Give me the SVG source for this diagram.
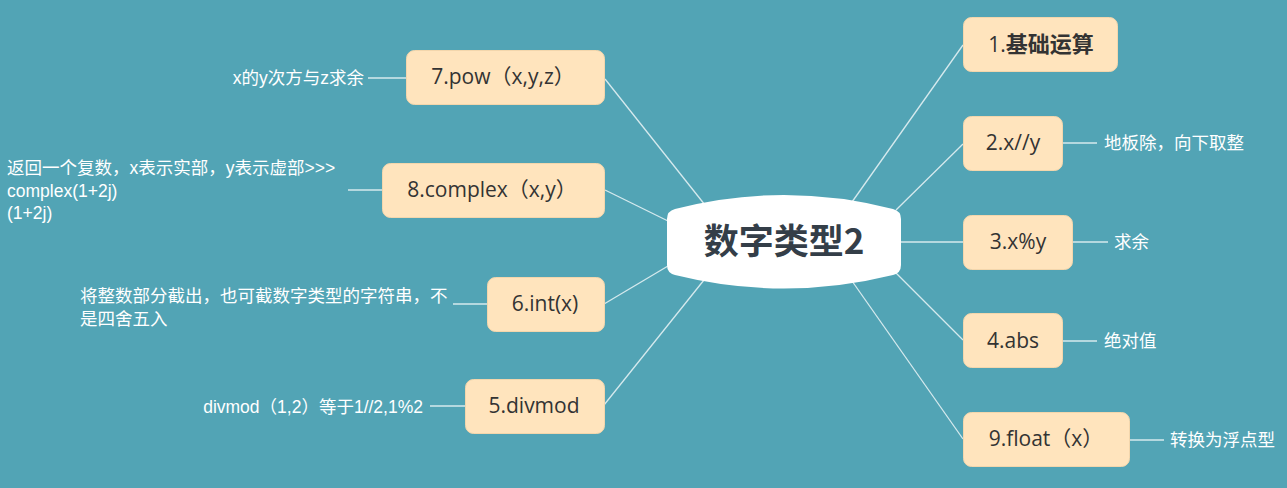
<svg xmlns="http://www.w3.org/2000/svg" width="1287" height="488" viewBox="0 0 1287 488">
<style>
.bg{fill:#52a4b5}
.box{fill:#ffe4bd;stroke:#f3d6ac;stroke-width:1}
.ntx{font-family:"Open Sans","Noto Sans CJK SC",sans-serif;font-size:21px;fill:#333333;text-anchor:middle}
.lbl{font-family:"Liberation Sans","Noto Sans CJK SC",sans-serif;font-size:17.5px;fill:#ffffff}
.ln{stroke:#d6eaee;stroke-width:1.3;fill:none}
.ctr{fill:#ffffff}
.ctx{font-family:"Noto Sans CJK SC","Noto Sans",sans-serif;font-size:35px;font-weight:700;fill:#343e48;text-anchor:middle}
</style>
<rect class="bg" x="0" y="0" width="1287" height="488"/>
<g id="connectors">
<line class="ln" x1="605" y1="79" x2="705" y2="205"/>
<line class="ln" x1="605" y1="190" x2="668" y2="221"/>
<line class="ln" x1="604" y1="304" x2="668" y2="266"/>
<line class="ln" x1="604" y1="405" x2="704" y2="280"/>
<line class="ln" x1="852" y1="202" x2="963" y2="45"/>
<line class="ln" x1="896" y1="210" x2="963" y2="144"/>
<line class="ln" x1="901" y1="242" x2="963" y2="242"/>
<line class="ln" x1="896" y1="273" x2="963" y2="340"/>
<line class="ln" x1="852" y1="281" x2="963" y2="439"/>
<line class="ln" x1="368" y1="78" x2="406" y2="78"/>
<line class="ln" x1="348" y1="190" x2="382" y2="190"/>
<line class="ln" x1="453" y1="304" x2="488" y2="304"/>
<line class="ln" x1="430" y1="406" x2="465" y2="406"/>
<line class="ln" x1="1063" y1="143" x2="1097" y2="143"/>
<line class="ln" x1="1073" y1="242" x2="1108" y2="242"/>
<line class="ln" x1="1063" y1="341" x2="1097" y2="341"/>
<line class="ln" x1="1129" y1="440" x2="1164" y2="440"/>
</g>
<g id="center">
<path class="ctr" d="M667,219 Q667,211 675,209 Q784,181 893,209 Q901,211 901,219 L901,265 Q901,273 893,275 Q784,302 675,275 Q667,273 667,265 Z"/>
<text class="ctx" x="784" y="254">数字类型2</text>
</g>
<g id="node1">
<rect class="box" x="963.5" y="17.5" width="154" height="54" rx="8"/>
<text class="ntx" x="1041" y="52">1.<tspan font-size="22px" font-weight="700">基础运算</tspan></text>
</g>
<g id="node2">
<rect class="box" x="963.5" y="116.5" width="99" height="54" rx="8"/>
<text class="ntx" x="1013" y="150">2.x//y</text>
<text class="lbl" x="1104" y="149">地板除，向下取整</text>
</g>
<g id="node3">
<rect class="box" x="963.5" y="215.5" width="109" height="54" rx="8"/>
<text class="ntx" x="1018" y="249">3.x%y</text>
<text class="lbl" x="1114" y="248">求余</text>
</g>
<g id="node4">
<rect class="box" x="963.5" y="313.5" width="99" height="54" rx="8"/>
<text class="ntx" x="1013" y="348">4.abs</text>
<text class="lbl" x="1104" y="347">绝对值</text>
</g>
<g id="node9">
<rect class="box" x="963.5" y="412.5" width="166" height="54" rx="8"/>
<text class="ntx" x="1046" y="446">9.float（x）</text>
<text class="lbl" x="1170" y="446">转换为浮点型</text>
</g>
<g id="node7">
<rect class="box" x="406.5" y="50.5" width="198" height="54" rx="8"/>
<text class="ntx" x="503" y="84">7.pow（x,y,z）</text>
<text class="lbl" x="364" y="84" text-anchor="end">x的y次方与z求余</text>
</g>
<g id="node8">
<rect class="box" x="382.5" y="163.5" width="222" height="54" rx="8"/>
<text class="ntx" x="492" y="197">8.complex（x,y）</text>
<text class="lbl" x="7" y="174">返回一个复数，x表示实部，y表示虚部&gt;&gt;&gt;</text>
<text class="lbl" x="7" y="197">complex(1+2j)</text>
<text class="lbl" x="7" y="219">(1+2j)</text>
</g>
<g id="node6">
<rect class="box" x="487.5" y="277.5" width="117" height="54" rx="8"/>
<text class="ntx" x="545" y="311">6.int(x)</text>
<text class="lbl" x="80" y="302">将整数部分截出，也可截数字类型的字符串，不</text>
<text class="lbl" x="80" y="325">是四舍五入</text>
</g>
<g id="node5">
<rect class="box" x="465.5" y="379.5" width="139" height="54" rx="8"/>
<text class="ntx" x="534" y="413">5.divmod</text>
<text class="lbl" x="423" y="413" text-anchor="end">divmod（1,2）等于1//2,1%2</text>
</g>
</svg>
